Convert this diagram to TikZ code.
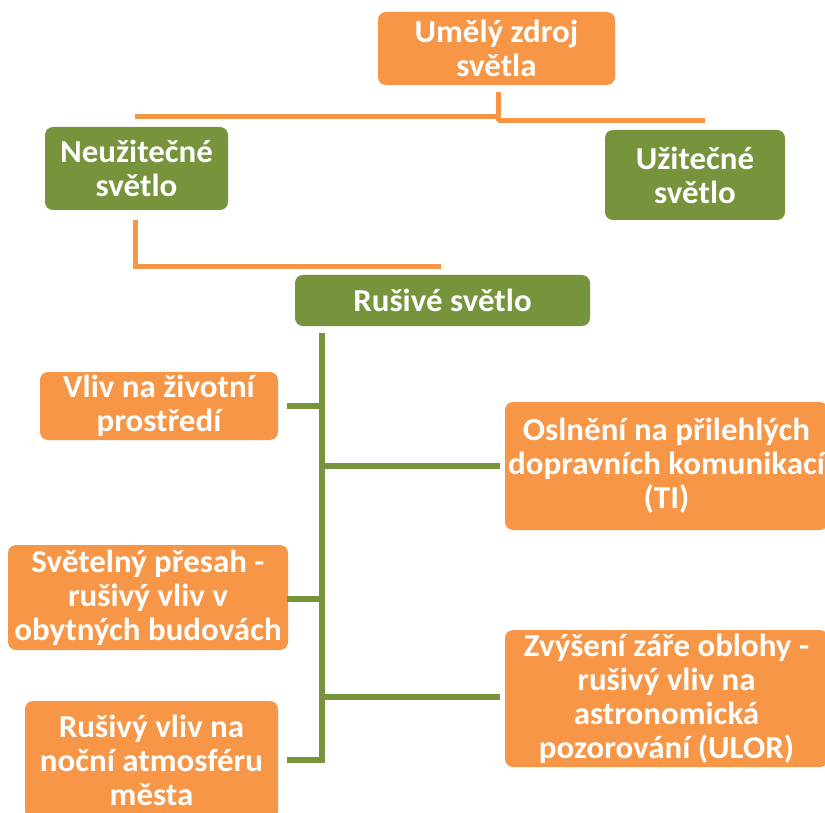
\documentclass[tikz,border=0pt]{standalone}
\usepackage{fontspec}
\setmainfont[FakeStretch=1.03]{Carlito}
\definecolor{boxorange}{HTML}{F79646}
\definecolor{boxgreen}{HTML}{77933C}
\begin{document}
\begin{tikzpicture}[x=1pt,y=-1pt,
  box/.style={rounded corners=8pt, text=white, align=center, inner sep=0pt,
    font=\bfseries\fontsize{32}{34}\selectfont},
  obox/.style={box, fill=boxorange},
  gbox/.style={box, fill=boxgreen},
  oline/.style={draw=boxorange, line width=5pt},
  gline/.style={draw=boxgreen, line width=6pt}]
\useasboundingbox (0,0) rectangle (825,813);
\fill[white] (0,0) rectangle (825,813);
% nodes
\node[obox, minimum width=237pt, minimum height=73pt] (src) at (496.5,48.5) {Umělý zdroj\\světla};
\node[gbox, minimum width=183pt, minimum height=83pt] (neu) at (136.5,168.5) {Neužitečné\\světlo};
\node[gbox, minimum width=180pt, minimum height=90pt] (uzi) at (695,175) {Užitečné\\světlo};
\node[gbox, minimum width=295pt, minimum height=51pt] (rus) at (442.5,300.5) {Rušivé světlo};
\node[obox, minimum width=238pt, minimum height=68pt] (l1) at (159,406) {Vliv na životní\\prostředí};
\node[obox, minimum width=323pt, minimum height=128pt] (r1) at (666.5,466) {Oslnění na přilehlých\\dopravních komunikací\\(TI)};
\node[obox, minimum width=280pt, minimum height=105pt] (l2) at (148,597.5) {Světelný přesah -\\rušivý vliv v\\obytných budovách};
\node[obox, minimum width=323pt, minimum height=137pt] (r2) at (666.5,698.5) {Zvýšení záře oblohy -\\rušivý vliv na\\astronomická\\pozorování (ULOR)};
\node[obox, minimum width=253pt, minimum height=118pt] (l3) at (151.5,760) {Rušivý vliv na\\noční atmosféru\\města};
% orange connectors
\coordinate (s1) at (498,92);
\coordinate (s2) at (498,121);
\coordinate (hl) at (135,117);
\coordinate (hr) at (705,121);
\draw[oline] (s1) -- (s2);
\draw[oline] (hl) -- (498,117);
\draw[oline] (498,121) -- (hr);
\coordinate (n1) at (135,220);
\coordinate (n2) at (135,267);
\coordinate (n3) at (441,267);
\draw[oline] (n1) -- (n2) -- (n3);
% green connectors
\coordinate (t1) at (322,333);
\coordinate (t2) at (322,763);
\draw[gline] (t1) -- (t2);
\coordinate (a1) at (287,406);
\coordinate (a2) at (287,599);
\coordinate (a3) at (287,760);
\coordinate (b1) at (500,466);
\coordinate (b2) at (500,697);
\draw[gline] (a1) -- (322,406);
\draw[gline] (a2) -- (322,599);
\draw[gline] (a3) -- (322,760);
\draw[gline] (322,466) -- (b1);
\draw[gline] (322,697) -- (b2);
\end{tikzpicture}
\end{document}
